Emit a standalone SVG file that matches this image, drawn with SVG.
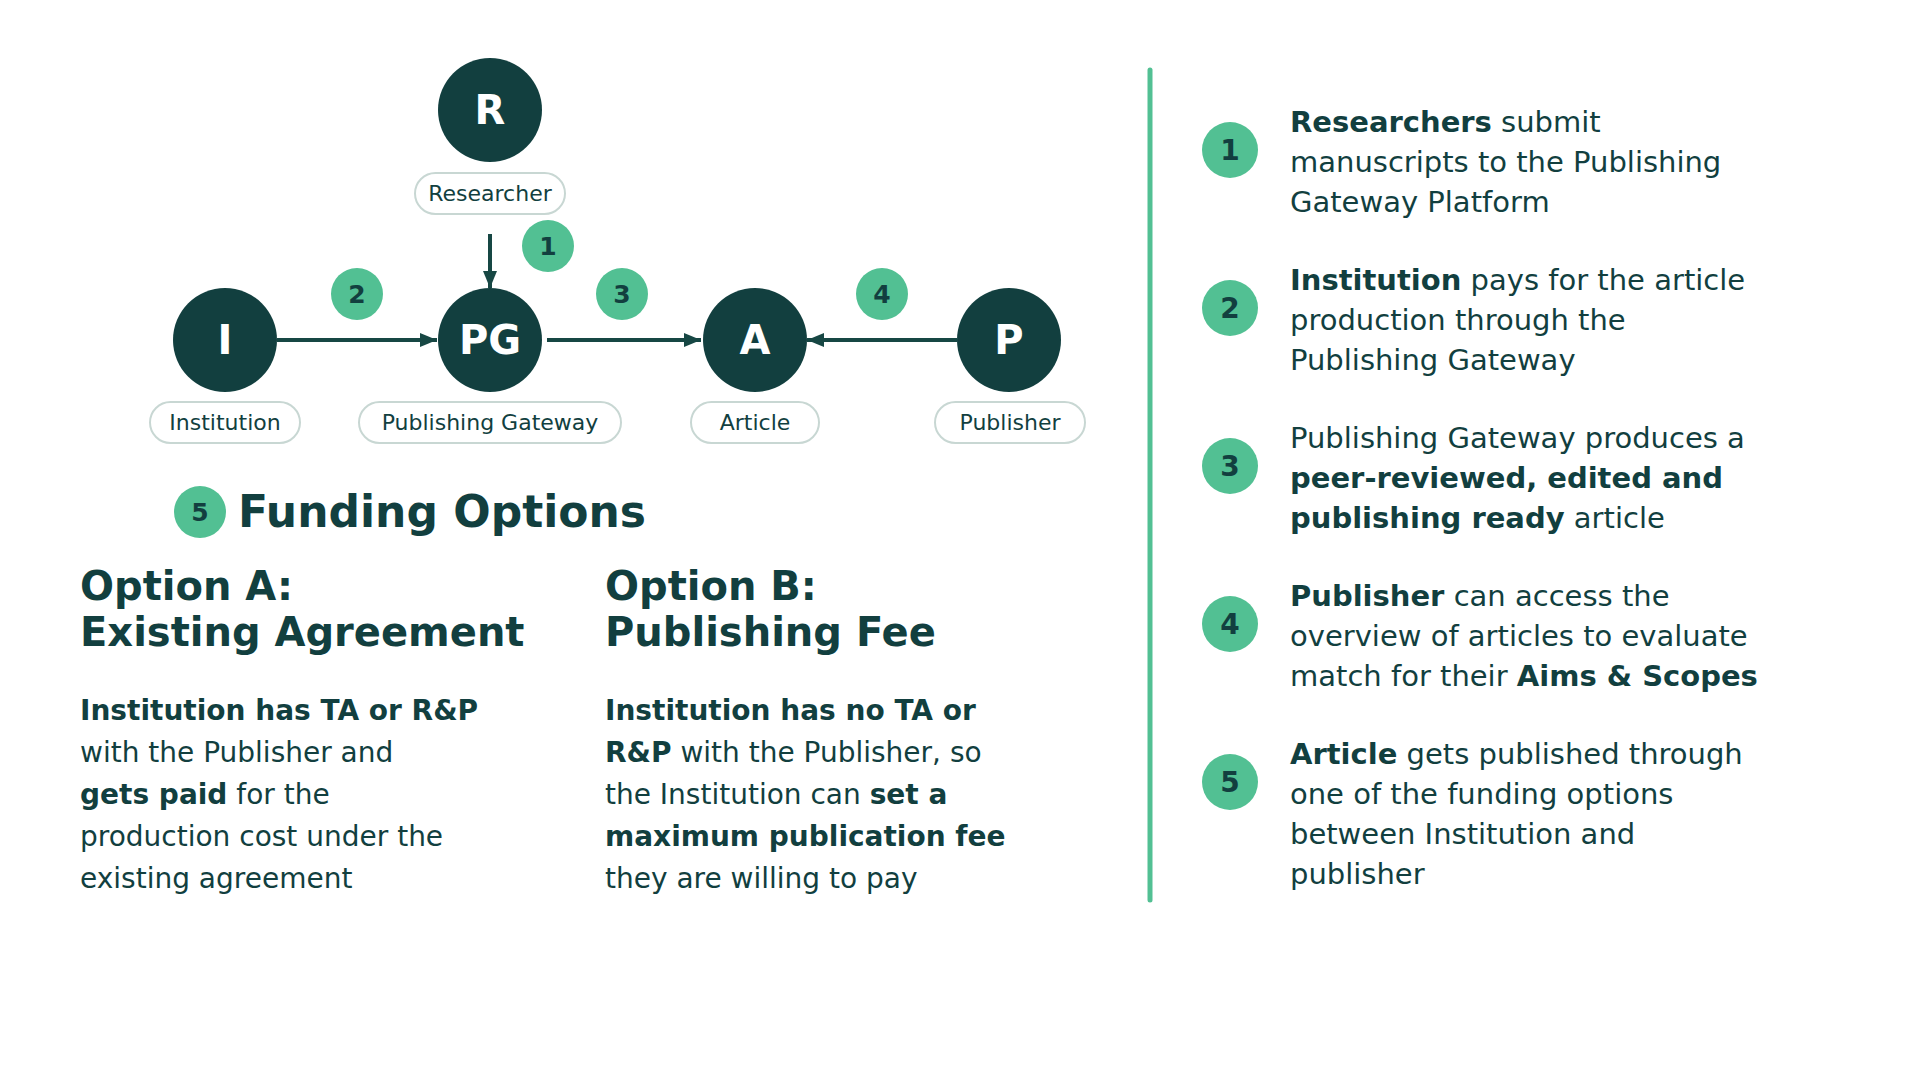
<svg xmlns="http://www.w3.org/2000/svg" width="1920" height="1080" viewBox="0 0 1920 1080">
<style>
text{font-family:"DejaVu Sans","Liberation Sans",sans-serif;fill:#123f3f}
.node{fill:#123f3f}
.nl{fill:#ffffff;font-weight:bold;font-size:40px;text-anchor:middle}
.pill{fill:#ffffff;stroke:#c8d7d3;stroke-width:2}
.pl{font-size:22px;text-anchor:middle}
.badge{fill:#52c093}
.bn{font-weight:bold;font-size:25px;text-anchor:middle}
.bn2{font-weight:bold;font-size:28px;text-anchor:middle}
.conn{stroke:#174744;stroke-width:4;fill:none}
.b{font-weight:bold}
.body{font-size:28px}
.rb{font-size:29px}
.title{font-size:40px;font-weight:bold}
.h{font-size:44px;font-weight:bold}
</style>
<defs>
<marker id="ah" markerUnits="userSpaceOnUse" markerWidth="18" markerHeight="16" refX="17" refY="8" orient="auto">
<path d="M0,1 L17,8 L0,15 Z" fill="#174744"/>
</marker>
</defs>
<rect width="1920" height="1080" fill="#ffffff"/>

<g id="connectors">
<line class="conn" x1="490" y1="234" x2="490" y2="288" marker-end="url(#ah)"/>
<line class="conn" x1="277" y1="340" x2="437" y2="340" marker-end="url(#ah)"/>
<line class="conn" x1="547" y1="340" x2="701" y2="340" marker-end="url(#ah)"/>
<line class="conn" x1="957" y1="340" x2="807" y2="340" marker-end="url(#ah)"/>
</g>

<g id="node-R">
<circle class="node" cx="490" cy="110" r="52"/>
<text class="nl" x="490" y="124">R</text>
<rect class="pill" x="415" y="173" width="150" height="41" rx="20.5"/>
<text class="pl" x="490" y="201">Researcher</text>
</g>
<g id="node-I">
<circle class="node" cx="225" cy="340" r="52"/>
<text class="nl" x="225" y="354">I</text>
<rect class="pill" x="150" y="402" width="150" height="41" rx="20.5"/>
<text class="pl" x="225" y="430">Institution</text>
</g>
<g id="node-PG">
<circle class="node" cx="490" cy="340" r="52"/>
<text class="nl" x="490" y="354">PG</text>
<rect class="pill" x="359" y="402" width="262" height="41" rx="20.5"/>
<text class="pl" x="490" y="430">Publishing Gateway</text>
</g>
<g id="node-A">
<circle class="node" cx="755" cy="340" r="52"/>
<text class="nl" x="755" y="354">A</text>
<rect class="pill" x="691" y="402" width="128" height="41" rx="20.5"/>
<text class="pl" x="755" y="430">Article</text>
</g>
<g id="node-P">
<circle class="node" cx="1009" cy="340" r="52"/>
<text class="nl" x="1009" y="354">P</text>
<rect class="pill" x="935" y="402" width="150" height="41" rx="20.5"/>
<text class="pl" x="1010" y="430">Publisher</text>
</g>

<g id="step-badges">
<circle class="badge" cx="548" cy="246" r="26"/><text class="bn" x="548" y="255">1</text>
<circle class="badge" cx="357" cy="294" r="26"/><text class="bn" x="357" y="303">2</text>
<circle class="badge" cx="622" cy="294" r="26"/><text class="bn" x="622" y="303">3</text>
<circle class="badge" cx="882" cy="294" r="26"/><text class="bn" x="882" y="303">4</text>
</g>

<g id="funding-title">
<circle class="badge" cx="200" cy="512" r="26"/><text class="bn" x="200" y="521">5</text>
<text class="h" x="238" y="527">Funding Options</text>
</g>

<g id="option-a">
<text class="title" x="80" y="600">Option A:</text>
<text class="title" x="80" y="646">Existing Agreement</text>
<text class="body" x="80" y="720"><tspan class="b">Institution has TA or R&amp;P</tspan></text>
<text class="body" x="80" y="762">with the Publisher and</text>
<text class="body" x="80" y="804"><tspan class="b">gets paid</tspan> for the</text>
<text class="body" x="80" y="846">production cost under the</text>
<text class="body" x="80" y="888">existing agreement</text>
</g>

<g id="option-b">
<text class="title" x="605" y="600">Option B:</text>
<text class="title" x="605" y="646">Publishing Fee</text>
<text class="body" x="605" y="720"><tspan class="b">Institution has no TA or</tspan></text>
<text class="body" x="605" y="762"><tspan class="b">R&amp;P</tspan> with the Publisher, so</text>
<text class="body" x="605" y="804">the Institution can <tspan class="b">set a</tspan></text>
<text class="body" x="605" y="846"><tspan class="b">maximum publication fee</tspan></text>
<text class="body" x="605" y="888">they are willing to pay</text>
</g>

<line x1="1150" y1="70" x2="1150" y2="900" stroke="#52c093" stroke-width="5" stroke-linecap="round"/>

<g id="item-1">
<circle class="badge" cx="1230" cy="150" r="28"/><text class="bn2" x="1230" y="160">1</text>
<text class="rb" x="1290" y="132"><tspan class="b">Researchers</tspan> submit</text>
<text class="rb" x="1290" y="172">manuscripts to the Publishing</text>
<text class="rb" x="1290" y="212">Gateway Platform</text>
</g>
<g id="item-2">
<circle class="badge" cx="1230" cy="308" r="28"/><text class="bn2" x="1230" y="318">2</text>
<text class="rb" x="1290" y="290"><tspan class="b">Institution</tspan> pays for the article</text>
<text class="rb" x="1290" y="330">production through the</text>
<text class="rb" x="1290" y="370">Publishing Gateway</text>
</g>
<g id="item-3">
<circle class="badge" cx="1230" cy="466" r="28"/><text class="bn2" x="1230" y="476">3</text>
<text class="rb" x="1290" y="448">Publishing Gateway produces a</text>
<text class="rb" x="1290" y="488"><tspan class="b">peer-reviewed, edited and</tspan></text>
<text class="rb" x="1290" y="528"><tspan class="b">publishing ready</tspan> article</text>
</g>
<g id="item-4">
<circle class="badge" cx="1230" cy="624" r="28"/><text class="bn2" x="1230" y="634">4</text>
<text class="rb" x="1290" y="606"><tspan class="b">Publisher</tspan> can access the</text>
<text class="rb" x="1290" y="646">overview of articles to evaluate</text>
<text class="rb" x="1290" y="686">match for their <tspan class="b">Aims &amp; Scopes</tspan></text>
</g>
<g id="item-5">
<circle class="badge" cx="1230" cy="782" r="28"/><text class="bn2" x="1230" y="792">5</text>
<text class="rb" x="1290" y="764"><tspan class="b">Article</tspan> gets published through</text>
<text class="rb" x="1290" y="804">one of the funding options</text>
<text class="rb" x="1290" y="844">between Institution and</text>
<text class="rb" x="1290" y="884">publisher</text>
</g>
</svg>
